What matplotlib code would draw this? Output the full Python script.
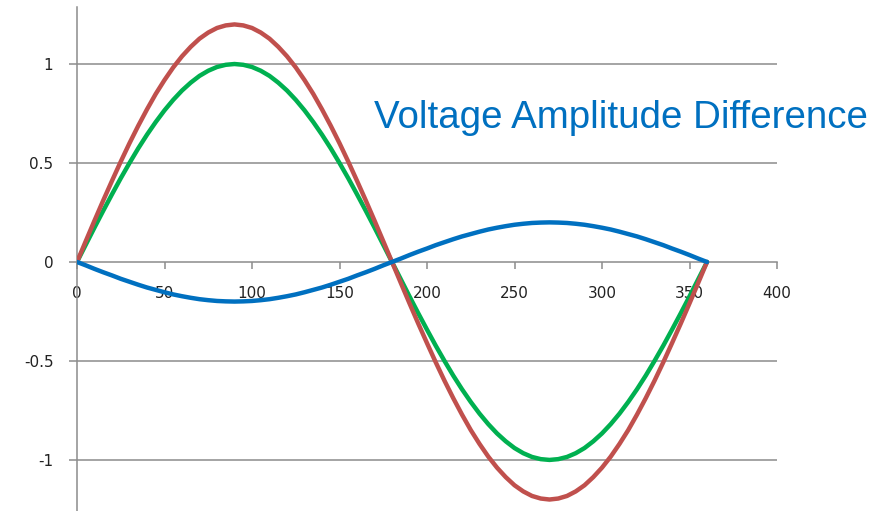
import numpy as np
import matplotlib.pyplot as plt

# angle in degrees, values every 5 degrees
angle = list(range(0, 361, 5))
v_green = [0, 0.087, 0.174, 0.259, 0.342, 0.423, 0.5, 0.574, 0.643, 0.707,
           0.766, 0.819, 0.866, 0.906, 0.94, 0.966, 0.985, 0.996, 1.0,
           0.996, 0.985, 0.966, 0.94, 0.906, 0.866, 0.819, 0.766, 0.707,
           0.643, 0.574, 0.5, 0.423, 0.342, 0.259, 0.174, 0.087, 0,
           -0.087, -0.174, -0.259, -0.342, -0.423, -0.5, -0.574, -0.643, -0.707,
           -0.766, -0.819, -0.866, -0.906, -0.94, -0.966, -0.985, -0.996, -1.0,
           -0.996, -0.985, -0.966, -0.94, -0.906, -0.866, -0.819, -0.766, -0.707,
           -0.643, -0.574, -0.5, -0.423, -0.342, -0.259, -0.174, -0.087, 0]
v_red = [0, 0.105, 0.209, 0.311, 0.41, 0.507, 0.6, 0.688, 0.771, 0.849,
         0.919, 0.983, 1.039, 1.087, 1.128, 1.159, 1.182, 1.195, 1.2,
         1.195, 1.182, 1.159, 1.128, 1.087, 1.039, 0.983, 0.919, 0.849,
         0.771, 0.688, 0.6, 0.507, 0.41, 0.311, 0.209, 0.105, 0,
         -0.105, -0.209, -0.311, -0.41, -0.507, -0.6, -0.688, -0.771, -0.849,
         -0.919, -0.983, -1.039, -1.087, -1.128, -1.159, -1.182, -1.195, -1.2,
         -1.195, -1.182, -1.159, -1.128, -1.087, -1.039, -0.983, -0.919, -0.849,
         -0.771, -0.688, -0.6, -0.507, -0.41, -0.311, -0.209, -0.105, 0]
v_diff = [0, -0.017, -0.035, -0.052, -0.068, -0.085, -0.1, -0.115, -0.129, -0.141,
          -0.153, -0.164, -0.173, -0.181, -0.188, -0.193, -0.197, -0.199, -0.2,
          -0.199, -0.197, -0.193, -0.188, -0.181, -0.173, -0.164, -0.153, -0.141,
          -0.129, -0.115, -0.1, -0.085, -0.068, -0.052, -0.035, -0.017, 0,
          0.017, 0.035, 0.052, 0.068, 0.085, 0.1, 0.115, 0.129, 0.141,
          0.153, 0.164, 0.173, 0.181, 0.188, 0.193, 0.197, 0.199, 0.2,
          0.199, 0.197, 0.193, 0.188, 0.181, 0.173, 0.164, 0.153, 0.141,
          0.129, 0.115, 0.1, 0.085, 0.068, 0.052, 0.035, 0.017, 0]

x_ticks = [0, 50, 100, 150, 200, 250, 300, 350, 400]
y_ticks = [-1, -0.5, 0, 0.5, 1]
y_labels = ["-1", "-0.5", "0", "0.5", "1"]

plt.rcParams["font.family"] = ["DejaVu Sans"]

fig = plt.figure(figsize=(8.94, 5.11), dpi=100)
ax = fig.add_axes([77 / 894, 0, 700 / 894, 504 / 511])

gray = "#8c8c8c"
for yv in [-1, -0.5, 0.5, 1]:
    ax.axhline(yv, color=gray, lw=1.1, zorder=1)

ax.plot(angle, v_green, color="#00b050", lw=3.2, zorder=3, solid_capstyle="round")
ax.plot(angle, v_red, color="#c0504d", lw=3.2, zorder=4, solid_capstyle="round")
ax.plot(angle, v_diff, color="#0070c0", lw=3.2, zorder=5, solid_capstyle="round")

ax.set_xlim(0, 400)
ax.set_ylim(-1.258, 1.288)

ax.spines["top"].set_visible(False)
ax.spines["right"].set_visible(False)
ax.spines["bottom"].set_position(("data", 0))
for s in ["left", "bottom"]:
    ax.spines[s].set_color(gray)
    ax.spines[s].set_linewidth(1.1)
    ax.spines[s].set_zorder(2)

ax.set_xticks(x_ticks)
ax.set_xticklabels([str(t) for t in x_ticks])
ax.set_yticks(y_ticks)
ax.set_yticklabels(y_labels)
ax.tick_params(axis="x", direction="out", length=5, width=1.1, color=gray,
               pad=12, labelsize=11, labelcolor="#222222")
ax.tick_params(axis="y", direction="out", length=6, width=1.1, color=gray,
               pad=11, labelsize=11, labelcolor="#222222")
for lbl in ax.get_xticklabels() + ax.get_yticklabels():
    lbl.set_zorder(0)

fig.text(374 / 894, 1 - 128 / 511, "Voltage Amplitude Difference",
         color="#0070c0", fontsize=27.7, ha="left", va="baseline",
         family="Liberation Sans")

fig.savefig("out.png", dpi=100)
